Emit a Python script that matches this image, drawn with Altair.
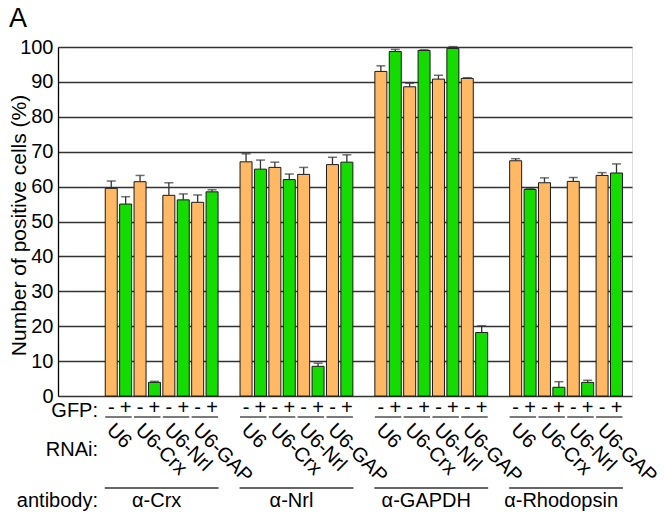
import altair as alt
import pandas as pd

antibodies = ["α-Crx", "α-Nrl", "α-GAPDH", "α-Rhodopsin"]
rnai_names = ["U6", "U6-Crx", "U6-Nrl", "U6-GAP"]
gfp_states = ["-", "+"]

# values ordered: U6 -, U6 +, U6-Crx -, U6-Crx +, U6-Nrl -, U6-Nrl +, U6-GAP -, U6-GAP +
crx_vals = [59.5, 55.0, 61.4, 3.9, 57.5, 56.2, 55.5, 58.5]
crx_err = [2.1, 2.1, 1.8, 0.3, 3.6, 1.7, 2.1, 0.6]
nrl_vals = [67.1, 65.0, 65.5, 62.0, 63.5, 8.5, 66.3, 67.0]
nrl_err = [2.3, 2.6, 1.5, 1.6, 2.0, 0.9, 2.1, 2.1]
gapdh_vals = [93.0, 98.7, 88.6, 99.0, 90.8, 99.6, 91.0, 18.2]
gapdh_err = [1.6, 0.6, 1.0, 0.2, 1.1, 0.5, 0.2, 1.9]
rho_vals = [67.4, 59.2, 61.1, 2.5, 61.5, 3.9, 63.2, 63.9]
rho_err = [0.6, 0.2, 1.4, 1.6, 1.1, 0.6, 0.8, 2.6]

all_vals = [crx_vals, nrl_vals, gapdh_vals, rho_vals]
all_errs = [crx_err, nrl_err, gapdh_err, rho_err]

FONT = "Liberation Sans"
FS = 20
ORANGE = "#FFB964"
GREEN = "#14DC00"
GSTRIDE = 9.36

rows, pairs, groups = [], [], []
for g, ab in enumerate(antibodies):
    for r, rn in enumerate(rnai_names):
        for s, gs in enumerate(gfp_states):
            i = r * 2 + s
            v = all_vals[g][i]
            e = all_errs[g][i]
            rows.append(dict(antibody=ab, rnai=rn, gfp=gs, pos=g * GSTRIDE + r * 2 + s,
                             val=v, top=v + e))
        pc = g * GSTRIDE + r * 2 + 0.5
        pairs.append(dict(rnai=rn, pc=pc, pl=pc - 0.92, pr=pc + 0.92, lx=pc - 0.1))
    gc = g * GSTRIDE + 3.5
    groups.append(dict(antibody=ab, gc=gc, gl=gc - 3.95, gr=gc + 3.95))

df = pd.DataFrame(rows)
pdf = pd.DataFrame(pairs)
gdf = pd.DataFrame(groups)

xscale = alt.Scale(domain=[-3.35, 3 * GSTRIDE + 7 + 0.73], nice=False, zero=False)
YTITLE = "Number of positive cells (%)"
yaxis = alt.Axis(values=list(range(0, 101, 10)), grid=True, gridColor="#333333", gridWidth=1.3,
                 domainColor="black", domainWidth=1.3, ticks=False, labelFontSize=FS,
                 labelFont=FONT, labelColor="black", labelPadding=5, title=YTITLE,
                 titleFontSize=21, titleFont=FONT, titleFontWeight="normal", titleColor="black",
                 titleAngle=-90, titleX=-39, titleY=178, titleAlign="center",
                 titleBaseline="middle")
yscale = alt.Scale(domain=[0, 100], nice=False)

X = alt.X("pos:Q", scale=xscale, axis=None)

bars = alt.Chart(df).mark_bar(size=12, stroke="#1a1a1a", strokeWidth=1).encode(
    x=X,
    y=alt.Y("val:Q", scale=yscale, axis=yaxis),
    color=alt.Color("gfp:N", scale=alt.Scale(domain=gfp_states, range=[ORANGE, GREEN]), legend=None),
)
stems = alt.Chart(df).mark_rule(color="#333333", strokeWidth=1.3).encode(
    x=X, y=alt.Y("val:Q", scale=yscale, axis=yaxis), y2="top:Q"
)
caps = alt.Chart(df).mark_tick(orient="horizontal", size=9, thickness=1.5, color="#333333").encode(
    x=X, y=alt.Y("top:Q", scale=yscale, axis=yaxis)
)

gfp_text = alt.Chart(df).mark_text(fontSize=FS, font=FONT, color="black", baseline="alphabetic").encode(
    x=X, y=alt.value(367), text="gfp:N"
)
pair_lines = alt.Chart(pdf).mark_rule(color="#333333", strokeWidth=1.3).encode(
    x=alt.X("pl:Q", scale=xscale, axis=None), x2="pr:Q", y=alt.value(370)
)
rnai_text = alt.Chart(pdf).mark_text(fontSize=FS, font=FONT, color="black", angle=45,
                                     align="left", baseline="top").encode(
    x=alt.X("lx:Q", scale=xscale, axis=None), y=alt.value(373), text="rnai:N"
)
group_lines = alt.Chart(gdf).mark_rule(color="#333333", strokeWidth=1.3).encode(
    x=alt.X("gl:Q", scale=xscale, axis=None), x2="gr:Q", y=alt.value(441)
)
group_text = alt.Chart(gdf).mark_text(fontSize=FS, font=FONT, color="black", baseline="alphabetic",
                                      dx=-5).encode(
    x=alt.X("gc:Q", scale=xscale, axis=None), y=alt.value(460), text="antibody:N"
)

row_labels = pd.DataFrame(dict(lab=["GFP:", "RNAi:", "antibody:"], yy=[370, 409, 460]))
row_text = alt.Chart(row_labels).mark_text(fontSize=FS, font=FONT, color="black",
                                           align="right", baseline="alphabetic").encode(
    x=alt.value(40), y=alt.Y("yy:Q", scale=None), text="lab:N"
)
panel = pd.DataFrame(dict(lab=["A"]))
panel_text = alt.Chart(panel).mark_text(fontSize=27, font=FONT, color="black",
                                        align="left", baseline="alphabetic").encode(
    x=alt.value(-49), y=alt.value(-20), text="lab:N"
)

chart = alt.layer(bars, stems, caps, gfp_text, pair_lines, rnai_text, group_lines, group_text,
                  row_text, panel_text).properties(
    width=574, height=349, autosize=alt.AutoSizeParams(type="none"),
    padding={"left": 50, "top": 39, "right": 25, "bottom": 117},
).configure_view(stroke=None).configure(font=FONT)

chart.save("out.html", embed_options={"renderer": "svg", "actions": False})
